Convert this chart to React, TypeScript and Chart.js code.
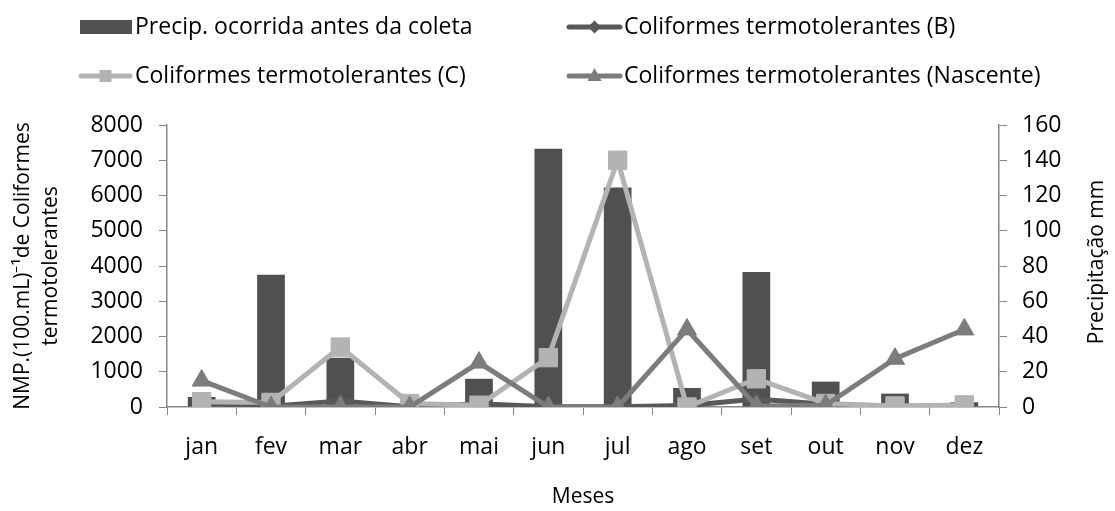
import React, { useEffect, useRef } from "react";
import { Chart, registerables } from "chart.js";

Chart.register(...registerables);

const months = ["jan", "fev", "mar", "abr", "mai", "jun", "jul", "ago", "set", "out", "nov", "dez"];
const precipMm = [5.7, 75, 28, 0, 16, 146.5, 124.5, 10.8, 76.6, 14.4, 7.6, 2.7];
const coliB = [100, 20, 170, 10, 90, 10, 10, 40, 230, 80, 20, 20];
const coliC = [150, 130, 1700, 100, 50, 1400, 7000, 0, 800, 100, 30, 60];
const coliNascente = [750, 0, 0, 0, 1260, 0, 0, 2200, 30, 50, 1370, 2200];

const seriesLabels = [
  "Precip. ocorrida antes da coleta",
  "Coliformes termotolerantes (B)",
  "Coliformes termotolerantes (C)",
  "Coliformes termotolerantes (Nascente)",
];
const leftTitle = ["NMP.(100.mL)\u207B\u00B9de Coliformes", "termotolerantes"];
const rightTitle = "Precipitação mm";
const xTitle = "Meses";

const FONT = "'Open Sans', sans-serif";
const FS = 23;
const FT = 21;
const AXIS = "#868686";
const C_BAR = "#505050";
const C_B = "#595959";
const C_C = "#b3b3b3";
const C_N = "#7c7c7c";

const legendPlugin = {
  id: "customLegend",
  afterDraw(chart: any) {
    const ctx = chart.ctx as CanvasRenderingContext2D;
    ctx.save();
    ctx.font = `${FS}px ${FONT}`;
    ctx.textBaseline = "middle";
    ctx.textAlign = "left";
    ctx.fillStyle = "#000";
    const items = [
      { i: 0, kind: "bar", color: C_BAR, x0: 80, x1: 132, tx: 135, y: 27 },
      { i: 1, kind: "rectRot", color: C_B, x0: 567, x1: 622, tx: 624, y: 27 },
      { i: 2, kind: "rect", color: C_C, x0: 79, x1: 132, tx: 135, y: 76 },
      { i: 3, kind: "triangle", color: C_N, x0: 567, x1: 622, tx: 624, y: 76 },
    ];
    for (const it of items) {
      if (it.kind === "bar") {
        ctx.fillStyle = it.color;
        ctx.fillRect(it.x0, it.y - 7, it.x1 - it.x0, 14);
      } else {
        ctx.strokeStyle = it.color;
        ctx.lineWidth = 5;
        ctx.lineCap = "round";
        ctx.beginPath();
        ctx.moveTo(it.x0 + 2, it.y);
        ctx.lineTo(it.x1 - 2, it.y);
        ctx.stroke();
        ctx.fillStyle = it.color;
        const cx = (it.x0 + it.x1) / 2;
        ctx.beginPath();
        if (it.kind === "rect") {
          ctx.rect(cx - 6, it.y - 6, 12, 12);
        } else if (it.kind === "rectRot") {
          ctx.moveTo(cx, it.y - 6.5);
          ctx.lineTo(cx + 6.5, it.y);
          ctx.lineTo(cx, it.y + 6.5);
          ctx.lineTo(cx - 6.5, it.y);
          ctx.closePath();
        } else {
          ctx.moveTo(cx, it.y - 8);
          ctx.lineTo(cx + 7, it.y + 5);
          ctx.lineTo(cx - 7, it.y + 5);
          ctx.closePath();
        }
        ctx.fill();
      }
      ctx.fillStyle = "#000";
      ctx.fillText(seriesLabels[it.i], it.tx, it.y);
    }
    // right axis title, reading bottom to top
    const area = chart.chartArea;
    ctx.font = `${FT}px ${FONT}`;
    ctx.translate(1097, (area.top + area.bottom) / 2 - 4);
    ctx.rotate(-Math.PI / 2);
    ctx.textAlign = "center";
    ctx.fillText(rightTitle, 0, 0);
    ctx.restore();
  },
};

export default function App() {
  const ref = useRef<HTMLCanvasElement>(null);
  useEffect(() => {
    if (!ref.current) return;
    Chart.defaults.font.family = FONT;
    Chart.defaults.font.size = FS;
    Chart.defaults.color = "#000";
    const chart = new Chart(ref.current, {
      type: "bar",
      data: {
        labels: months,
        datasets: [
          {
            type: "bar",
            label: seriesLabels[0],
            data: precipMm,
            yAxisID: "y1",
            backgroundColor: C_BAR,
            borderWidth: 0,
            categoryPercentage: 1,
            barPercentage: 0.4,
            order: 4,
          },
          {
            type: "line",
            label: seriesLabels[1],
            data: coliB,
            yAxisID: "y",
            borderColor: C_B,
            backgroundColor: C_B,
            borderWidth: 5,
            pointStyle: "rectRot",
            pointRadius: 7,
            pointBorderWidth: 1,
            pointBackgroundColor: C_B,
            pointBorderColor: C_B,
            tension: 0,
            order: 3,
          },
          {
            type: "line",
            label: seriesLabels[2],
            data: coliC,
            yAxisID: "y",
            borderColor: C_C,
            backgroundColor: C_C,
            borderWidth: 5,
            pointStyle: "rect",
            pointRadius: 13,
            pointBorderWidth: 1,
            pointBackgroundColor: C_C,
            pointBorderColor: C_C,
            tension: 0,
            order: 2,
          },
          {
            type: "line",
            label: seriesLabels[3],
            data: coliNascente,
            yAxisID: "y",
            borderColor: C_N,
            backgroundColor: C_N,
            borderWidth: 5,
            pointStyle: "triangle",
            pointRadius: 11,
            pointBorderWidth: 1,
            pointBackgroundColor: C_N,
            pointBorderColor: C_N,
            tension: 0,
            order: 1,
          },
        ],
      },
      options: {
        animation: false,
        responsive: true,
        maintainAspectRatio: false,
        layout: { padding: { top: 125, left: 0, right: 0, bottom: 0 } },
        plugins: {
          legend: { display: false },
          tooltip: { enabled: false },
        },
        scales: {
          x: {
            offset: true,
            grid: {
              display: true,
              drawOnChartArea: false,
              drawTicks: true,
              tickLength: 8,
              color: AXIS,
              offset: true,
            },
            border: { display: true, color: AXIS, width: 1.5 },
            ticks: { padding: 19, autoSkip: false, maxRotation: 0, font: { size: FS } },
            title: { display: true, text: xTitle, padding: { top: 0, bottom: 1 }, font: { size: FT } },
            afterFit: (s: any) => {
              s.height = 104;
            },
          },
          y: {
            position: "left",
            min: 0,
            max: 8000,
            ticks: {
              stepSize: 1000,
              padding: 16,
              font: { size: FS },
              callback: (v: any) => String(v),
            },
            grid: {
              drawOnChartArea: false,
              drawTicks: true,
              tickLength: 8,
              color: AXIS,
            },
            border: { display: true, color: AXIS, width: 1.5 },
            title: {
              display: true,
              text: leftTitle,
              padding: { top: 9, bottom: 0 },
              font: { size: FT, lineHeight: 1.32 },
            },
            afterFit: (s: any) => {
              s.width = 167;
            },
          },
          y1: {
            position: "right",
            min: 0,
            max: 160,
            ticks: { stepSize: 20, padding: 15, font: { size: FS }, callback: (v: any) => String(v) },
            grid: {
              drawOnChartArea: false,
              drawTicks: true,
              tickLength: 8,
              color: AXIS,
            },
            border: { display: true, color: AXIS, width: 1.5 },
            afterFit: (s: any) => {
              s.width = 116;
            },
          },
        },
      },
      plugins: [legendPlugin],
    });
    return () => chart.destroy();
  }, []);
  return (
    <div style={{ position: "fixed", left: 0, top: 0, width: 1115, height: 511, background: "#fff" }}>
      <canvas ref={ref} />
    </div>
  );
}
